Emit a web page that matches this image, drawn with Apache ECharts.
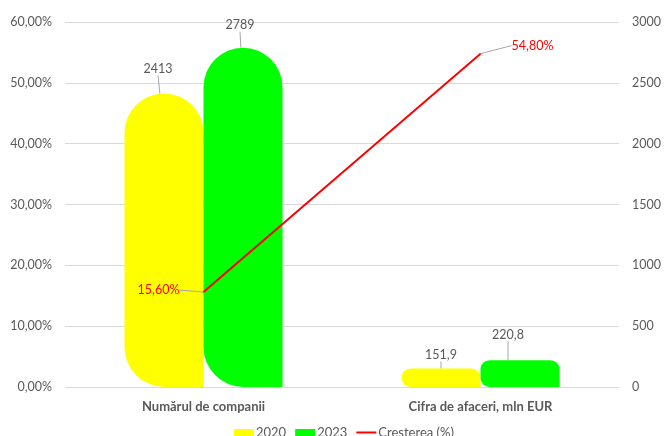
<!DOCTYPE html>
<html>
<head>
    <meta charset="UTF-8">
    <title>Companii</title>
    <script type="text/javascript" src="https://cdn.jsdelivr.net/npm/echarts@6/dist/echarts.min.js"></script>
    <style>
        body { margin: 0; background: #fff; }
        #chart { width: 664px; height: 436px; }
    </style>
</head>
<body>
<div id="chart"></div>
<script>
    var categories = ['Numărul de companii', 'Cifra de afaceri, mln EUR'];
    var values2020 = [2413, 151.9];
    var values2023 = [2789, 220.8];
    var growth = [15.6, 54.8];

    // label offsets (dx, dy) per bar
    var offs2020 = [[-6, -13], [0, -2]];
    var offs2023 = [[-3, -11], [-12, -14]];
    var offsGrowth = [[-45, -2], [52, -8]];
    // corner radius per category (tall pills vs flat bars)
    var radii = [40, 9];

    function comma(v, d) {
        return v.toFixed(d).replace('.', ',');
    }

    function barData(values) {
        return values.map(function (v, i) {
            var r = radii[i];
            return { value: v, itemStyle: { borderRadius: [r, r, 0, r] } };
        });
    }

    var font = 'Lato, "Noto Sans", sans-serif';
    var grey = '#595959';

    var chart = echarts.init(document.getElementById('chart'));
    chart.setOption({
        textStyle: { fontFamily: font },
        animation: false,
        grid: { left: 65, right: 42, top: 22, bottom: 49 },
        legend: {
            top: 421,
            left: 229,
            itemWidth: 20,
            itemHeight: 7,
            itemGap: 9,
            textStyle: { color: grey, fontSize: 13, fontFamily: font, padding: [0, 0, 0, -3] },
            data: [
                { name: '2020', icon: 'rect' },
                { name: '2023', icon: 'rect' },
                { name: 'Cresterea (%)', icon: 'path://M0,0 L20,0 L20,2 L0,2 Z' }
            ]
        },
        xAxis: {
            type: 'category',
            data: categories,
            axisLine: { show: false },
            axisTick: { show: false },
            axisLabel: { color: grey, fontWeight: 'bold', fontSize: 13, margin: 13, fontFamily: font }
        },
        yAxis: [{
            type: 'value',
            min: 0, max: 60, interval: 10,
            axisLabel: {
                color: grey, fontSize: 12.5, margin: 13, fontFamily: font,
                formatter: function (v) { return comma(v, 2) + '%'; }
            },
            splitLine: { lineStyle: { color: '#d9d9d9' } }
        }, {
            type: 'value',
            min: 0, max: 3000, interval: 500,
            axisLabel: {
                color: grey, fontSize: 12.5, margin: 13, fontFamily: font,
                formatter: function (v) { return String(v); }
            },
            splitLine: { show: false }
        }],
        series: [{
            name: '2020',
            type: 'bar',
            yAxisIndex: 1,
            data: barData(values2020),
            barWidth: 79,
            barGap: '0%',
            itemStyle: { color: '#ffff00' },
            label: {
                show: true, position: 'top', color: grey, fontSize: 12.5, fontFamily: font,
                formatter: function (p) { return p.value % 1 ? comma(p.value, 1) : p.value; }
            },
            labelLine: { show: true, lineStyle: { color: '#a6a6a6', width: 1 } },
            labelLayout: function (p) {
                return { dx: offs2020[p.dataIndex][0], dy: offs2020[p.dataIndex][1] };
            }
        }, {
            name: '2023',
            type: 'bar',
            yAxisIndex: 1,
            data: barData(values2023),
            barWidth: 79,
            itemStyle: { color: '#00ff00' },
            label: {
                show: true, position: 'top', color: grey, fontSize: 12.5, fontFamily: font,
                formatter: function (p) { return p.value % 1 ? comma(p.value, 1) : p.value; }
            },
            labelLine: { show: true, lineStyle: { color: '#a6a6a6', width: 1 } },
            labelLayout: function (p) {
                return { dx: offs2023[p.dataIndex][0], dy: offs2023[p.dataIndex][1] };
            }
        }, {
            name: 'Cresterea (%)',
            type: 'line',
            yAxisIndex: 0,
            data: growth,
            showSymbol: true,
            symbol: 'circle',
            symbolSize: 1,
            itemStyle: { color: '#ff0000' },
            lineStyle: { color: '#ff0000', width: 2 },
            label: {
                show: true, position: 'inside', color: '#ff0000', fontSize: 12.5, fontFamily: font,
                formatter: function (p) { return comma(p.value, 2) + '%'; }
            },
            labelLine: { show: true, lineStyle: { color: '#a6a6a6', width: 1 } },
            labelLayout: function (p) {
                return { dx: offsGrowth[p.dataIndex][0], dy: offsGrowth[p.dataIndex][1] };
            }
        }]
    });
</script>
</body>
</html>
